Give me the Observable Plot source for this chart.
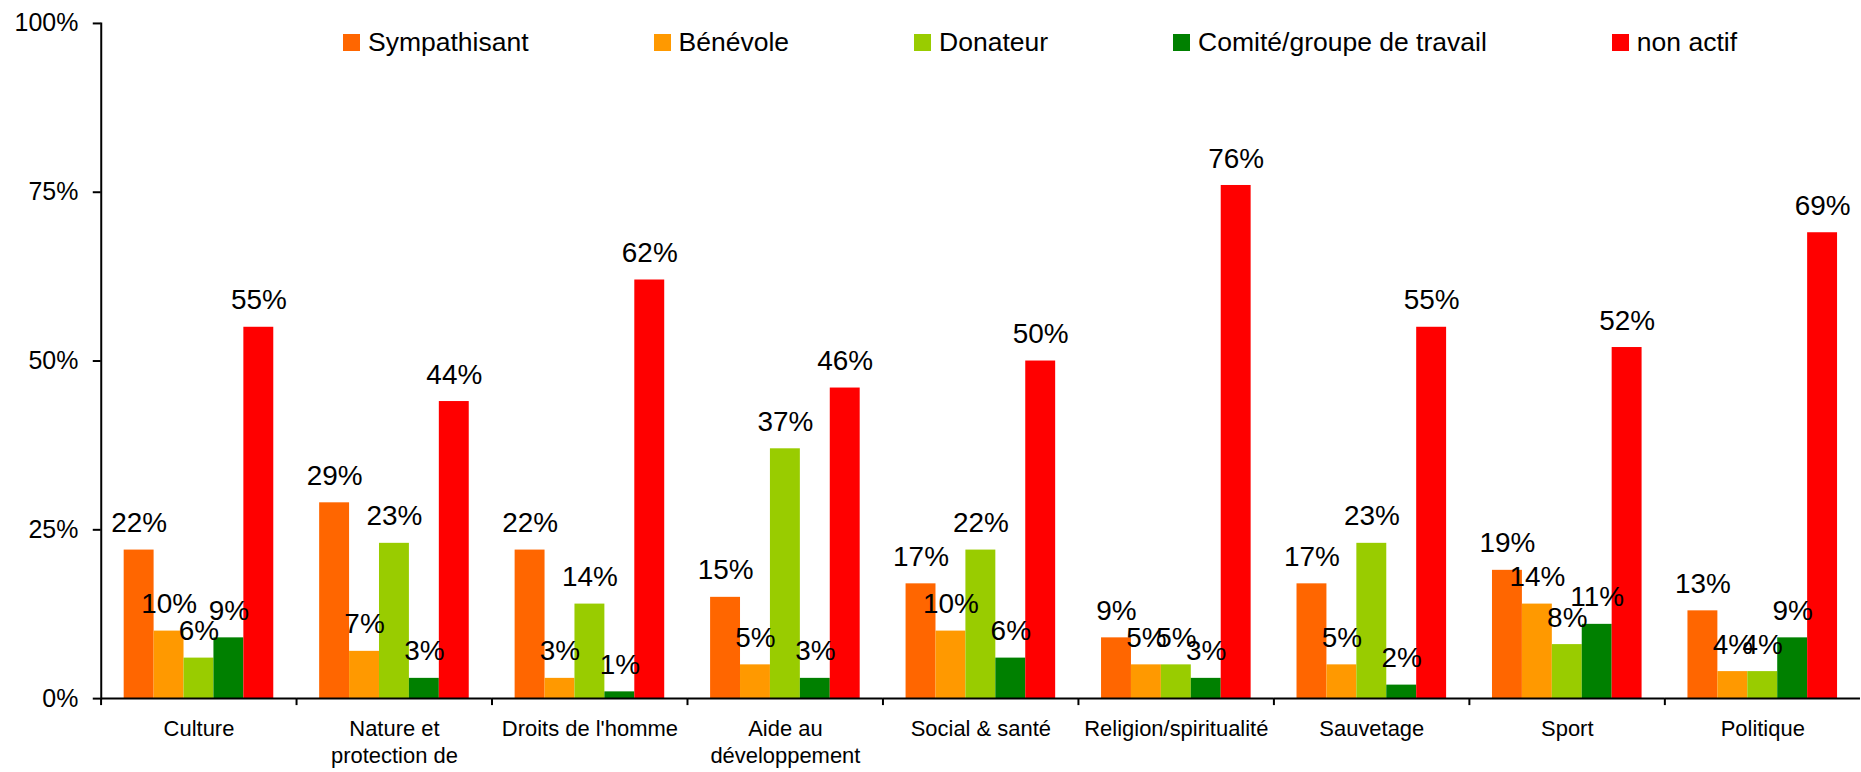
<!DOCTYPE html>
<html><head><meta charset="utf-8">
<script src="https://cdn.jsdelivr.net/npm/d3@7"></script>
<script src="https://cdn.jsdelivr.net/npm/@observablehq/plot@0.6"></script>
<style>
html,body{margin:0;padding:0;background:#fff;overflow:hidden;}
#wrap{position:relative;width:1861px;height:772px;overflow:hidden;}
#chart{position:absolute;left:0;top:0;}
#legend{position:absolute;left:343px;top:27px;display:flex;gap:125px;font-family:"Liberation Sans",Arial,sans-serif;font-size:26.5px;color:#000;white-space:nowrap;line-height:30px;}
.item{display:flex;align-items:center;}
.sw{width:17px;height:17px;margin-right:8px;flex:none;}
</style></head><body>
<div id="wrap"><div id="chart"></div><div id="legend"></div></div>
<script>
const categories = ["Culture", "Nature et\nprotection de", "Droits de l'homme", "Aide au\ndéveloppement", "Social & santé", "Religion/spiritualité", "Sauvetage", "Sport", "Politique"];
const series = ["Sympathisant", "Bénévole", "Donateur", "Comité/groupe de travail", "non actif"];
const colors = ["#FF6600", "#FF9900", "#99CC00", "#008000", "#FF0000"];
const sympathisant = [22, 29, 22, 15, 17, 9, 17, 19, 13];
const benevole = [10, 7, 3, 5, 10, 5, 5, 14, 4];
const donateur = [6, 23, 14, 37, 22, 5, 23, 8, 4];
const comite = [9, 3, 1, 3, 6, 3, 2, 11, 9];
const nonActif = [55, 44, 62, 46, 50, 76, 55, 52, 69];
const yTicks = [0, 25, 50, 75, 100];

const seriesValues = [sympathisant, benevole, donateur, comite, nonActif];
const rows = [];
categories.forEach((c, i) => series.forEach((s, j) => rows.push({category: c, series: s, value: seriesValues[j][i]})));

const W = 1866, H = 772, ML = 99, MR = 0, MT = 23, MB = 72;
const groupW = (W - ML - MR) / categories.length;

const chart = Plot.plot({
  width: W, height: H,
  marginTop: MT, marginBottom: MB, marginLeft: ML, marginRight: MR,
  style: {fontFamily: "'Liberation Sans', Arial, sans-serif", background: "white", color: "black", overflow: "visible"},
  fx: {domain: categories, padding: 0, label: null},
  x: {domain: series, paddingInner: 0, paddingOuter: 0.73, axis: null},
  y: {domain: [0, 100], label: null},
  color: {domain: series, range: colors},
  marks: [
    Plot.barY(rows, {fx: "category", x: "series", y: "value", fill: "series"}),
    Plot.text(rows, {fx: "category", x: "series", y: "value", text: d => d.value + "%", lineAnchor: "bottom", dy: -18, fontSize: 28, fill: "black"}),
    Plot.ruleY([0], {strokeWidth: 2}),
    Plot.frame({anchor: "left", strokeWidth: 2, facetAnchor: "left"}),
    Plot.axisY(yTicks, {tickSize: 8, tickPadding: 15, fontSize: 25, tickFormat: d => d + "%", strokeWidth: 2, label: null}),
    Plot.axisFx({anchor: "bottom", tickSize: 0, tickPadding: 19, fontSize: 22, lineHeight: 1.2, label: null}),
    Plot.axisFx({anchor: "bottom", tickSize: 7, tickFormat: () => "", dx: -groupW / 2, strokeWidth: 2, label: null})
  ]
});
document.getElementById("chart").appendChild(chart);

const legend = document.getElementById("legend");
series.forEach((s, i) => {
  const item = document.createElement("div");
  item.className = "item";
  const sw = document.createElement("span");
  sw.className = "sw";
  sw.style.background = colors[i];
  const t = document.createElement("span");
  t.textContent = s;
  item.appendChild(sw);
  item.appendChild(t);
  legend.appendChild(item);
});
</script>
</body></html>
